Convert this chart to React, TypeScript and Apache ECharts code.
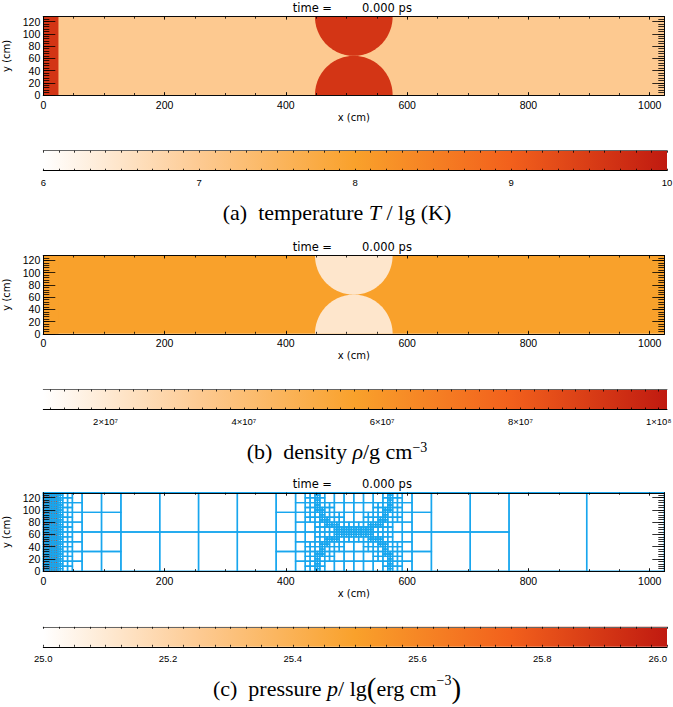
import React, { useEffect, useRef } from "react";
import * as echarts from "echarts";

// ---------------- data ----------------
const domainX = [0, 1024]; // cm
const domainY = [0, 128]; // cm
const stripWidth = 25; // hot strip at the left wall, cm
const bubbleCenters = [
  [512, 0],
  [512, 128],
];
const bubbleRadius = 64; // cm
const simTime = "0.000 ps";

const temperatureAmbient = 7.02; // lg K
const temperatureHot = 9.62; // strip and bubbles
const densityAmbient = 5.6e7; // g cm^-3
const densityBubble = 2.15e7;
const densityStrip = 5.6e7;
const pressureAmbient = 25.0; // lg erg cm^-3
const pressureStrip = 25.85;

// AMR mesh parameters
const rootBlockSize = 128;
const finestBlockSize = 4;

// colour table (white -> peach -> orange -> red)
const heatColors = ["#ffffff", "#fdca92", "#f9a12b", "#f2601c", "#c01a10"];

// axis ticks
const xMajorTicks = [0, 200, 400, 600, 800, 1000];
const xMinorTicks = [0, 50, 100, 150, 200, 250, 300, 350, 400, 450, 500, 550, 600, 650, 700, 750, 800, 850, 900, 950, 1000];
const yMajorTicks = [0, 20, 40, 60, 80, 100, 120];
const yMinorTicks = [0, 4, 8, 12, 16, 20, 24, 28, 32, 36, 40, 44, 48, 52, 56, 60, 64, 68, 72, 76, 80, 84, 88, 92, 96, 100, 104, 108, 112, 116, 120, 124, 128];

const temperatureRange = [6, 10];
const temperatureTicks = [6, 7, 8, 9, 10];
const temperatureTickLabels = ["6", "7", "8", "9", "10"];
const densityRange = [1.1e7, 1.012e8];
const densityTicks = [2e7, 4e7, 6e7, 8e7, 1e8];
const densityTickLabels = ["2×10⁷", "4×10⁷", "6×10⁷", "8×10⁷", "1×10⁸"];
const pressureRange = [25, 26];
const pressureTicks = [25.0, 25.2, 25.4, 25.6, 25.8, 26.0];
const pressureTickLabels = ["25.0", "25.2", "25.4", "25.6", "25.8", "26.0"];

// ---------------- layout ----------------
const W = 673;
const H = 707;
const plotLeft = 43.3;
const plotWidth = 621;
const plotHeight = 78.3;
const plotTops = [16.7, 255.5, 492.8];
const cbLeft = 43.3;
const cbWidth = 623.7;
const cbHeight = 20;
const cbOffset = 134;
const captionOffset = 195.5;
const AXC = "rgba(0,0,0,0.8)";
const TICKFONT = "'Liberation Sans Narrow', 'Liberation Sans', Arial, sans-serif";
const LABFONT = "'DejaVu Sans', sans-serif";
const SERIF = "'Liberation Serif', 'Times New Roman', serif";

function tickSteps(a: number, b: number, step: number): number[] {
  const out: number[] = [];
  const n = Math.round((b - a) / step);
  for (let i = 0; i <= n; i++) out.push(+(a + i * step).toPrecision(10));
  return out;
}

function colorOf(v: number, range: number[]): string {
  const t = Math.min(1, Math.max(0, (v - range[0]) / (range[1] - range[0])));
  return echarts.color.lerp(t, heatColors) as string;
}

// block-structured AMR mesh: refine blocks that contain the strip or a bubble interface,
// then enforce 2:1 balance between touching blocks
function buildMeshBlocks(): number[][] {
  type B = { x: number; y: number; s: number };
  let leaves: B[] = [];
  for (let x = domainX[0]; x < domainX[1]; x += rootBlockSize) leaves.push({ x, y: domainY[0], s: rootBlockSize });
  const crossesBubble = (b: B) =>
    bubbleCenters.some(([cx, cy]) => {
      const dxMin = Math.max(b.x - cx, 0, cx - (b.x + b.s));
      const dyMin = Math.max(b.y - cy, 0, cy - (b.y + b.s));
      const dMin = Math.hypot(dxMin, dyMin);
      const dxMax = Math.max(Math.abs(b.x - cx), Math.abs(b.x + b.s - cx));
      const dyMax = Math.max(Math.abs(b.y - cy), Math.abs(b.y + b.s - cy));
      const dMax = Math.hypot(dxMax, dyMax);
      return dMin < bubbleRadius && dMax > bubbleRadius;
    });
  const split = (b: B): B[] => {
    const h = b.s / 2;
    return [
      { x: b.x, y: b.y, s: h },
      { x: b.x + h, y: b.y, s: h },
      { x: b.x, y: b.y + h, s: h },
      { x: b.x + h, y: b.y + h, s: h },
    ];
  };
  const wants = (b: B) => b.s > finestBlockSize && (b.x < stripWidth || crossesBubble(b));
  let changed = true;
  while (changed) {
    changed = false;
    const next: B[] = [];
    for (const b of leaves) {
      if (wants(b)) {
        next.push(...split(b));
        changed = true;
      } else next.push(b);
    }
    leaves = next;
  }
  changed = true;
  while (changed) {
    changed = false;
    const next: B[] = [];
    for (const b of leaves) {
      const tooCoarse =
        b.s > finestBlockSize &&
        leaves.some(
          (m) => m.s * 4 <= b.s && m.x <= b.x + b.s && m.x + m.s >= b.x && m.y <= b.y + b.s && m.y + m.s >= b.y
        );
      if (tooCoarse) {
        next.push(...split(b));
        changed = true;
      } else next.push(b);
    }
    leaves = next;
  }
  return leaves.map((b) => [b.x, b.y, b.x + b.s, b.y + b.s]);
}

function axisBase(grid: number, pos: string, min: number, max: number, ticks: number[], len: number, extra: any = {}) {
  return {
    type: "value",
    gridIndex: grid,
    position: pos,
    min,
    max,
    z: 10,
    axisLine: { show: true, onZero: false, lineStyle: { color: AXC, width: 1 } },
    axisTick: { show: true, inside: true, length: len, customValues: ticks, lineStyle: { color: AXC, width: 1 } },
    axisLabel: { show: false },
    splitLine: { show: false },
    ...extra,
  };
}

function buildOption() {
  const meshBlocks = buildMeshBlocks();
  const panels = [
    {
      range: temperatureRange,
      ticks: temperatureTicks,
      labels: temperatureTickLabels,
      minor: tickSteps(6, 10, 0.1),
      rects: [
        [domainX[0], domainY[0], domainX[1], domainY[1], temperatureAmbient],
        [domainX[0], domainY[0], stripWidth, domainY[1], temperatureHot],
      ],
      bubbles: bubbleCenters.map(([cx, cy]) => [cx, cy, bubbleRadius, temperatureHot]),
      mesh: false,
      caption: "(a)  temperature {i|T}{n| / }lg (K)",
    },
    {
      range: densityRange,
      ticks: densityTicks,
      labels: densityTickLabels,
      minor: tickSteps(1.2e7, 1.0e8, 2e6),
      rects: [
        [domainX[0], domainY[0], domainX[1], domainY[1], densityAmbient],
        [domainX[0], domainY[0], stripWidth, domainY[1], densityStrip],
      ],
      bubbles: bubbleCenters.map(([cx, cy]) => [cx, cy, bubbleRadius, densityBubble]),
      mesh: false,
      caption: "(b)  density {i|ρ}/g cm{sup|−3}",
    },
    {
      range: pressureRange,
      ticks: pressureTicks,
      labels: pressureTickLabels,
      minor: tickSteps(25, 26, 0.025),
      rects: [
        [domainX[0], domainY[0], domainX[1], domainY[1], pressureAmbient],
        [domainX[0], domainY[0], stripWidth, domainY[1], pressureStrip],
      ],
      bubbles: [] as number[][],
      mesh: true,
      caption: "(c)  pressure {i|p}/ lg{big|(}erg cm{sup|−3}{big|)}",
    },
  ];

  const grid: any[] = [];
  const xAxis: any[] = [];
  const yAxis: any[] = [];
  const series: any[] = [];
  const graphic: any[] = [];

  panels.forEach((panel, p) => {
    const top = plotTops[p];
    // ---- field plot ----
    const g = grid.length;
    grid.push({ left: plotLeft, top, width: plotWidth, height: plotHeight, show: false, containLabel: false, outerBoundsMode: "none" });
    const xi = xAxis.length;
    xAxis.push(
      axisBase(g, "bottom", domainX[0], domainX[1], xMajorTicks, 3, {
        name: "x (cm)",
        nameLocation: "middle",
        nameGap: 17,
        nameTextStyle: { fontFamily: LABFONT, fontSize: 10, color: "#000" },
        axisLabel: {
          show: true,
          customValues: xMajorTicks,
          margin: 4,
          fontFamily: TICKFONT,
          fontSize: 10.5,
          color: "#000",
          formatter: (v: number) => String(v),
        },
      })
    );
    xAxis.push(axisBase(g, "bottom", domainX[0], domainX[1], xMinorTicks, 2));
    xAxis.push(axisBase(g, "top", domainX[0], domainX[1], xMajorTicks, 3));
    xAxis.push(axisBase(g, "top", domainX[0], domainX[1], xMinorTicks, 2));
    const yi = yAxis.length;
    yAxis.push(
      axisBase(g, "left", domainY[0], domainY[1], yMajorTicks, 12, {
        name: "y (cm)",
        nameLocation: "middle",
        nameGap: 26,
        nameTextStyle: { fontFamily: LABFONT, fontSize: 10, color: "#000" },
        axisLabel: {
          show: true,
          customValues: yMajorTicks,
          margin: 3,
          fontFamily: TICKFONT,
          fontSize: 10.5,
          color: "#000",
          formatter: (v: number) => String(v),
        },
      })
    );
    yAxis.push(axisBase(g, "left", domainY[0], domainY[1], yMinorTicks, 6));
    yAxis.push(axisBase(g, "right", domainY[0], domainY[1], yMajorTicks, 12));
    yAxis.push(axisBase(g, "right", domainY[0], domainY[1], yMinorTicks, 6));

    const range = panel.range;
    series.push({
      type: "custom",
      xAxisIndex: xi,
      yAxisIndex: yi,
      z: 1,
      silent: true,
      data: panel.rects,
      renderItem: (_params: any, api: any) => {
        const a = api.coord([api.value(0), api.value(3)]);
        const b = api.coord([api.value(2), api.value(1)]);
        return {
          type: "rect",
          shape: { x: a[0], y: a[1], width: b[0] - a[0], height: b[1] - a[1] },
          style: { fill: colorOf(api.value(4), range) },
        };
      },
    });
    if (panel.bubbles.length) {
      series.push({
        type: "custom",
        xAxisIndex: xi,
        yAxisIndex: yi,
        z: 1,
        silent: true,
        data: panel.bubbles,
        renderItem: (_params: any, api: any) => {
          const cx = api.value(0);
          const cy = api.value(1);
          const r = api.value(2);
          const pts: number[][] = [];
          for (let k = 0; k <= 180; k++) {
            const t = (k / 180) * Math.PI * 2;
            const x = cx + r * Math.cos(t);
            const y = Math.min(domainY[1], Math.max(domainY[0], cy + r * Math.sin(t)));
            pts.push(api.coord([x, y]));
          }
          return { type: "polygon", shape: { points: pts }, style: { fill: colorOf(api.value(3), range) } };
        },
      });
    }
    if (panel.mesh) {
      series.push({
        type: "custom",
        xAxisIndex: xi,
        yAxisIndex: yi,
        z: 2,
        silent: true,
        data: meshBlocks,
        renderItem: (_params: any, api: any) => {
          const a = api.coord([api.value(0), api.value(3)]);
          const b = api.coord([api.value(2), api.value(1)]);
          return {
            type: "rect",
            shape: { x: a[0], y: a[1], width: b[0] - a[0], height: b[1] - a[1] },
            style: { fill: "none", stroke: "#18a6ee", lineWidth: 1.4 },
          };
        },
      });
    }

    // ---- colour bar ----
    const cg = grid.length;
    grid.push({ left: cbLeft, top: top + cbOffset, width: cbWidth, height: cbHeight, show: false, containLabel: false, outerBoundsMode: "none" });
    const cxi = xAxis.length;
    const labels = panel.labels;
    const ticks = panel.ticks;
    const span = range[1] - range[0];
    xAxis.push(
      axisBase(cg, "bottom", range[0], range[1], panel.minor, 2, {
        axisLine: { show: true, onZero: false, lineStyle: { color: "#000", width: 1 } },
        axisLabel: {
          show: true,
          customValues: ticks,
          margin: 7,
          fontFamily: TICKFONT,
          fontSize: 9.5,
          color: "#000",
          alignMaxLabel: p === 2 ? "right" : undefined,
          formatter: (v: number) => {
            const i = ticks.findIndex((t) => Math.abs(t - v) < span * 1e-6);
            return i >= 0 ? labels[i] : "";
          },
        },
      })
    );
    xAxis.push(
      axisBase(cg, "top", range[0], range[1], panel.minor, 2, {
        axisLine: { show: true, onZero: false, lineStyle: { color: "#666", width: 1 } },
      })
    );
    const cyi = yAxis.length;
    yAxis.push({ type: "value", gridIndex: cg, min: 0, max: 1, show: false });
    series.push({
      type: "custom",
      xAxisIndex: cxi,
      yAxisIndex: cyi,
      z: 1,
      silent: true,
      data: [[range[0], range[1]]],
      renderItem: (_params: any, api: any) => {
        const a = api.coord([api.value(0), 1]);
        const b = api.coord([api.value(1), 0]);
        return {
          type: "rect",
          shape: { x: a[0], y: a[1], width: b[0] - a[0], height: b[1] - a[1] },
          style: {
            fill: new echarts.graphic.LinearGradient(
              0,
              0,
              1,
              0,
              heatColors.map((c, i) => ({ offset: i / (heatColors.length - 1), color: c }))
            ),
          },
        };
      },
    });

    // ---- titles and captions ----
    graphic.push({
      type: "text",
      x: 332,
      y: top - 9,
      style: { text: "time =", align: "right", verticalAlign: "middle", fontFamily: LABFONT, fontSize: 11.5, fill: "#000" },
    });
    graphic.push({
      type: "text",
      x: 362,
      y: top - 9,
      style: { text: simTime, align: "left", verticalAlign: "middle", fontFamily: LABFONT, fontSize: 11.5, fill: "#000" },
    });
    graphic.push({
      type: "text",
      x: 337,
      y: top + captionOffset,
      style: {
        text: panel.caption,
        align: "center",
        verticalAlign: "middle",
        fontFamily: SERIF,
        fontSize: 22,
        fill: "#000",
        rich: {
          i: { fontFamily: SERIF, fontSize: 22, fontStyle: "italic", fill: "#000" },
          n: { fontFamily: SERIF, fontSize: 22, fill: "#000" },
          sup: { fontFamily: SERIF, fontSize: 14, fill: "#000", verticalAlign: "top" },
          big: { fontFamily: SERIF, fontSize: 29, fill: "#000" },
        },
      },
    });
  });

  return {
    animation: false,
    backgroundColor: "#ffffff",
    grid,
    xAxis,
    yAxis,
    series,
    graphic,
  };
}

export default function App() {
  const ref = useRef<HTMLDivElement>(null);
  useEffect(() => {
    document.body.style.margin = "0";
    const chart = echarts.init(ref.current as HTMLDivElement, undefined, { renderer: "svg", width: W, height: H });
    chart.setOption(buildOption() as any);
    return () => chart.dispose();
  }, []);
  return <div ref={ref} style={{ width: W, height: H }} />;
}
